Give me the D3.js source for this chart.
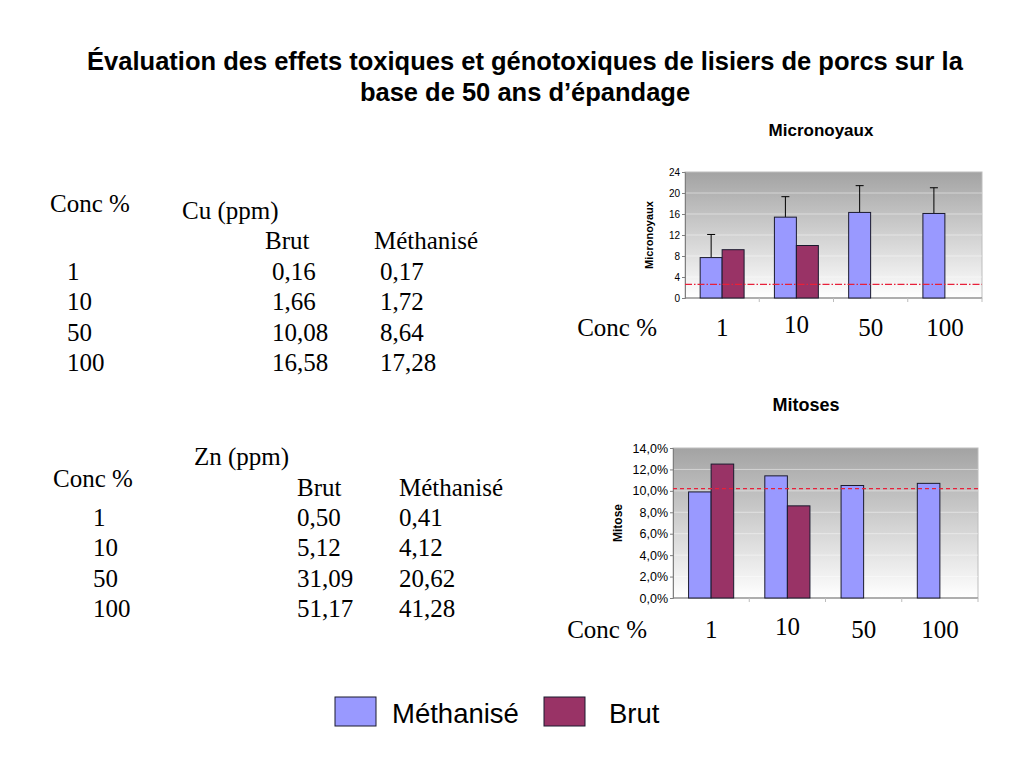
<!DOCTYPE html>
<html>
<head>
<meta charset="utf-8">
<script src="https://cdn.jsdelivr.net/npm/d3@7"></script>
<style>
  body { margin: 0; background: #fff; }
  svg { display: block; }
  .sans { font-family: "Liberation Sans", Arial, sans-serif; }
  .serif { font-family: "Liberation Serif", "Times New Roman", serif; }
</style>
</head>
<body>
<div id="page"></div>
<script>
// data

const concs = ['1', '10', '50', '100'];
const series = ['Méthanisé', 'Brut'];
const colors = {'Méthanisé': '#9999ff', 'Brut': '#993366'};

// Cu table (ppm)
const cuBrut = ['0,16', '1,66', '10,08', '16,58'];
const cuMeth = ['0,17', '1,72', '8,64', '17,28'];
// Zn table (ppm)
const znBrut = ['0,50', '5,12', '31,09', '51,17'];
const znMeth = ['0,41', '4,12', '20,62', '41,28'];

// Micronoyaux chart
const microMeth = [7.7, 15.4, 16.3, 16.1];
const microBrut = [9.2, 10.0, null, null];
const microErr = [4.4, 3.9, 5.1, 4.9];
const microRef = 2.6;
const microTicks = [0, 4, 8, 12, 16, 20, 24];

// Mitoses chart
const mitMeth = [0.099, 0.114, 0.105, 0.107];
const mitBrut = [0.125, 0.086, null, null];
const mitRef = 0.102;
const mitTicks = [0, 0.02, 0.04, 0.06, 0.08, 0.10, 0.12, 0.14];

const svg = d3.select('#page')
    .append('svg')
    .attr('width', 1024)
    .attr('height', 768);

// main title
const title = svg.append('text')
    .attr('class', 'sans')
    .attr('text-anchor', 'middle')
    .attr('font-weight', 'bold')
    .attr('font-size', 25.5);
title.append('tspan').attr('x', 525).attr('y', 70)
    .text('Évaluation des effets toxiques et génotoxiques de lisiers de porcs sur la');
title.append('tspan').attr('x', 525).attr('y', 101)
    .text('base de 50 ans d’épandage');

// gradient for plot areas
let grad = svg.append('defs').append('linearGradient')
    .attr('id', 'plotGrad')
    .attr('x1', 0).attr('y1', 0).attr('x2', 0).attr('y2', 1);
grad.append('stop').attr('offset', '0%').attr('stop-color', '#a3a3a3');
grad.append('stop').attr('offset', '100%').attr('stop-color', '#ffffff');

// tables
draw_table({concX: 50, concY: 212, metal: 'Cu (ppm)', metalX: 182, metalY: 219,
    brutHX: 265, methHX: 374, headY: 249, rowX: 67, brutX: 272, methX: 380, rowY: 280,
    brut: cuBrut, meth: cuMeth});
draw_table({concX: 53, concY: 487, metal: 'Zn (ppm)', metalX: 194, metalY: 465,
    brutHX: 297, methHX: 399, headY: 496, rowX: 93, brutX: 297, methX: 399, rowY: 526,
    brut: znBrut, meth: znMeth});

// charts
draw_chart({
    title: 'Micronoyaux', titleX: 821, titleY: 136, titleSize: 17,
    yLabel: 'Micronoyaux', yLabelX: 653, yLabelSize: 11,
    left: 685, right: 982, top: 172, bottom: 298,
    domain: [0, 24], ticks: microTicks, tickFmt: d3.format('d'), tickSize: 10,
    meth: microMeth, brut: microBrut, err: microErr,
    ref: microRef, refDash: '7,2,1.5,2',
    concLabelY: 336, concGap: 28
});
draw_chart({
    title: 'Mitoses', titleX: 806, titleY: 411, titleSize: 18,
    yLabel: 'Mitose', yLabelX: 622, yLabelSize: 12,
    left: 673, right: 978, top: 448, bottom: 598,
    domain: [0, 0.14], ticks: mitTicks, tickFmt: d => d3.format('.1%')(d).replace('.', ','), tickSize: 12.5,
    meth: mitMeth, brut: mitBrut, err: null,
    ref: mitRef, refDash: '4,3',
    concLabelY: 638, concGap: 26
});

draw_legend();

function draw_table(o){
    let g = svg.append('g').attr('class', 'serif').attr('font-size', 25);
    g.append('text').attr('x', o.concX).attr('y', o.concY).text('Conc %');
    g.append('text').attr('x', o.metalX).attr('y', o.metalY).text(o.metal);
    g.append('text').attr('x', o.brutHX).attr('y', o.headY).text('Brut');
    g.append('text').attr('x', o.methHX).attr('y', o.headY).text('Méthanisé');

    let rowY = d3.scalePoint()
        .domain(concs)
        .range([o.rowY, o.rowY + 91]);

    let rows = g.selectAll('g.row')
        .data(concs)
        .enter()
        .append('g')
        .attr('class', 'row')
        .attr('transform', d => `translate(0,${rowY(d)})`);
    rows.append('text').attr('x', o.rowX).text(d => d);
    rows.append('text').attr('x', o.brutX).text((d, i) => o.brut[i]);
    rows.append('text').attr('x', o.methX).text((d, i) => o.meth[i]);
}

function draw_chart(o){
    const g = svg.append('g');

    let x = d3.scaleBand()
        .domain(concs)
        .range([o.left, o.right]);
    let x1 = d3.scaleBand()
        .domain(series)
        .range([0, x.bandwidth()])
        .paddingOuter(0.69);
    let y = d3.scaleLinear()
        .domain(o.domain)
        .range([o.bottom, o.top]);

    // plot area
    g.append('rect')
        .attr('x', o.left)
        .attr('y', o.top)
        .attr('width', o.right - o.left)
        .attr('height', o.bottom - o.top)
        .attr('fill', 'url(#plotGrad)')
        .attr('stroke', '#bdbdbd')
        .attr('stroke-width', 1);

    // grid lines
    g.append('g')
        .selectAll('line')
        .data(o.ticks.slice(1, -1))
        .enter()
        .append('line')
        .attr('x1', o.left).attr('x2', o.right)
        .attr('y1', d => y(d)).attr('y2', d => y(d))
        .attr('stroke', '#ffffff')
        .attr('stroke-opacity', 0.45);

    // y axis
    let yAxis = g.append('g')
        .attr('class', 'sans')
        .attr('transform', `translate(${o.left},0)`)
        .call(d3.axisLeft(y).tickValues(o.ticks).tickFormat(o.tickFmt).tickSize(3).tickPadding(2));
    yAxis.selectAll('path, line').attr('stroke', '#7f7f7f');
    yAxis.selectAll('text')
        .attr('font-family', '"Liberation Sans", Arial, sans-serif')
        .attr('font-size', o.tickSize)
        .attr('fill', '#000');

    // x axis with ticks on band edges
    let xAxis = g.append('g')
        .attr('transform', `translate(0,${o.bottom})`);
    xAxis.append('line')
        .attr('x1', o.left).attr('x2', o.right)
        .attr('stroke', '#7f7f7f');
    xAxis.selectAll('line.tk')
        .data(concs)
        .enter()
        .append('line')
        .attr('class', 'tk')
        .attr('x1', d => x(d) + x.bandwidth()).attr('x2', d => x(d) + x.bandwidth())
        .attr('y1', 0).attr('y2', 4)
        .attr('stroke', '#bdbdbd');

    // bars
    let bars = [];
    concs.forEach((c, i) => {
        bars.push({conc: c, s: 'Méthanisé', v: o.meth[i], e: o.err ? o.err[i] : null});
        if (o.brut[i] !== null) bars.push({conc: c, s: 'Brut', v: o.brut[i], e: null});
    });

    // error bars (behind bars)
    let errG = g.append('g');
    errG.selectAll('line.err')
        .data(bars.filter(d => d.e !== null))
        .enter()
        .append('line')
        .attr('x1', d => x(d.conc) + x1(d.s) + x1.bandwidth() / 2)
        .attr('x2', d => x(d.conc) + x1(d.s) + x1.bandwidth() / 2)
        .attr('y1', d => y(d.v))
        .attr('y2', d => y(d.v + d.e))
        .attr('stroke', '#000');
    errG.selectAll('line.cap')
        .data(bars.filter(d => d.e !== null))
        .enter()
        .append('line')
        .attr('x1', d => x(d.conc) + x1(d.s) + x1.bandwidth() / 2 - 4)
        .attr('x2', d => x(d.conc) + x1(d.s) + x1.bandwidth() / 2 + 4)
        .attr('y1', d => y(d.v + d.e))
        .attr('y2', d => y(d.v + d.e))
        .attr('stroke', '#000');

    g.append('g')
        .selectAll('rect')
        .data(bars)
        .enter()
        .append('rect')
        .attr('x', d => x(d.conc) + x1(d.s))
        .attr('y', d => y(d.v))
        .attr('width', x1.bandwidth())
        .attr('height', d => y(0) - y(d.v))
        .attr('fill', d => colors[d.s])
        .attr('stroke', '#1a1a2e')
        .attr('stroke-width', 1);

    // reference line
    g.append('line')
        .attr('x1', o.left).attr('x2', o.right)
        .attr('y1', y(o.ref)).attr('y2', y(o.ref))
        .attr('stroke', '#e8203a')
        .attr('stroke-width', 1.2)
        .attr('stroke-dasharray', o.refDash);

    // titles
    g.append('text')
        .attr('class', 'sans')
        .attr('x', o.titleX).attr('y', o.titleY)
        .attr('text-anchor', 'middle')
        .attr('font-weight', 'bold')
        .attr('font-size', o.titleSize)
        .text(o.title);
    g.append('text')
        .attr('class', 'sans')
        .attr('transform', `translate(${o.yLabelX},${(o.top + o.bottom) / 2}) rotate(-90)`)
        .attr('text-anchor', 'middle')
        .attr('font-weight', 'bold')
        .attr('font-size', o.yLabelSize)
        .text(o.yLabel);

    // concentration labels under the chart
    let lab = g.append('g').attr('class', 'serif').attr('font-size', 25);
    lab.append('text')
        .attr('x', o.left - o.concGap).attr('y', o.concLabelY)
        .attr('text-anchor', 'end')
        .text('Conc %');
    lab.selectAll('text.c')
        .data(concs)
        .enter()
        .append('text')
        .attr('class', 'c')
        .attr('x', d => x(d) + x.bandwidth() / 2)
        .attr('y', d => d === '10' ? o.concLabelY - 3 : o.concLabelY)
        .attr('text-anchor', 'middle')
        .text(d => d);
}

function draw_legend(){
    let leg = svg.append('g').attr('class', 'sans');
    let lx = d3.scaleOrdinal().domain(series).range([335, 544]);
    let items = leg.selectAll('g')
        .data(series)
        .enter()
        .append('g')
        .attr('transform', d => `translate(${lx(d)},697)`);
    items.append('rect')
        .attr('width', 41)
        .attr('height', 29)
        .attr('fill', d => colors[d])
        .attr('stroke', '#1a1a2e');
    items.append('text')
        .attr('x', d => d === 'Brut' ? 65 : 57)
        .attr('y', 26)
        .attr('font-size', 27.5)
        .text(d => d);
}
</script>
</body>
</html>
